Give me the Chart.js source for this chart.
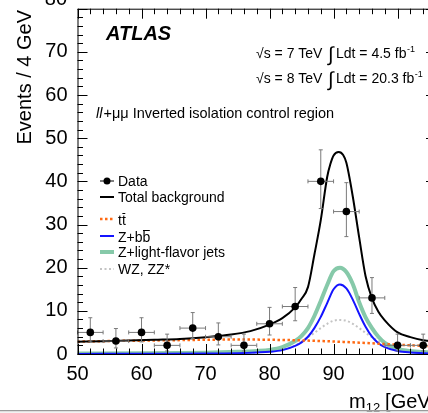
<!DOCTYPE html>
<html>
<head>
<meta charset="utf-8">
<script src="https://cdn.jsdelivr.net/npm/chart.js@4.4.0/dist/chart.umd.min.js"></script>
<style>
  html, body { margin: 0; padding: 0; overflow: hidden; background: #fff; }
</style>
</head>
<body>
<canvas id="chart" width="440" height="413"></canvas>
<script>
const FONT = '"Liberation Sans", Arial, Helvetica, sans-serif'

// data, 4 GeV bins (centres)
const dataMass = [52, 56, 60, 64, 68, 72, 76, 80, 84, 88, 92, 96, 100, 104]
const dataEvents = [5, 3, 5, 2, 6, 4, 2, 7, 11, 40, 33, 13, 2, 2]
const errDown = [2.2, 1.6, 2.2, 1.3, 2.4, 1.9, 1.3, 2.6, 3.3, 6.3, 5.8, 3.6, 1.3, 1.3]
const errUp = [3.4, 2.9, 3.4, 2.6, 3.6, 3.2, 2.6, 3.8, 4.4, 7.3, 6.7, 4.7, 2.6, 2.6]
const binHalfWidth = 2

// total background
const totalMass = [50, 54, 58, 62, 66, 70, 74, 77, 80, 82, 84, 85, 86, 87, 88, 89, 89.5, 90, 90.8, 91.5, 92, 93, 94, 95, 96, 97, 98, 100, 102, 104, 106]
const totalBkg = [2.85, 2.95, 3.1, 3.3, 3.5, 3.9, 4.5, 5.3, 6.8, 8.3, 10.8, 12.8, 15.5, 23.0, 31.0, 41.0, 44.0, 46.0, 46.8, 46.1, 44.3, 36.5, 27.0, 18.0, 12.9, 9.8, 7.8, 5.0, 3.9, 3.2, 2.9]

// ttbar
const ttbarMass = [50, 55, 60, 65, 70, 75, 80, 85, 90, 95, 100, 104, 106]
const ttbar = [2.85, 3.0, 3.1, 3.2, 3.3, 3.35, 3.3, 3.15, 2.9, 2.55, 2.15, 1.9, 1.8]

// Z components and diboson
const peakMass = [50, 60, 70, 75, 78, 80, 82, 84, 85, 86, 87, 88, 89, 90, 91, 92, 93, 94, 95, 96, 97, 98, 100, 102, 104, 106]
const zbb = [0.02, 0.05, 0.1, 0.2, 0.35, 0.5, 0.9, 1.9, 2.7, 4.0, 6.0, 8.6, 11.8, 15.0, 16.1, 15.2, 12.6, 9.3, 6.3, 4.0, 2.5, 1.6, 0.7, 0.35, 0.2, 0.1]
const zlight = [0.1, 0.15, 0.3, 0.5, 0.7, 0.95, 1.6, 3.0, 4.2, 6.0, 8.8, 12.3, 16.0, 19.2, 20.0, 19.0, 16.2, 12.0, 8.5, 6.0, 4.0, 2.6, 1.2, 0.7, 0.45, 0.3]
const diboson = [0.05, 0.1, 0.15, 0.25, 0.4, 0.6, 1.0, 2.0, 2.9, 3.9, 4.9, 6.0, 7.0, 7.7, 7.9, 7.7, 7.0, 6.0, 4.9, 3.9, 3.0, 2.2, 1.1, 0.55, 0.3, 0.15]

const xMin = 50, xMax = 106, yMin = 0, yMax = 80

const COLORS = {
  data: '#000000',
  err: '#7a7a7a',
  total: '#000000',
  ttbar: '#ff6a13',
  zbb: '#1414ff',
  zlight: '#86c9a9',
  diboson: '#c4c4c4',
}

function pts(xs, ys) {
  return xs.map((x, i) => ({ x: x, y: ys[i] }))
}

function overlineText(ctx, base, x, y) {
  // draws text and puts a bar over its last letter
  ctx.fillText(base, x, y)
  const full = ctx.measureText(base).width
  const last = ctx.measureText(base.slice(-1)).width
  ctx.save()
  ctx.strokeStyle = ctx.fillStyle
  ctx.lineWidth = 1
  ctx.beginPath()
  ctx.moveTo(x + full - last + 0.5, y - 11.5)
  ctx.lineTo(x + full - 0.5, y - 11.5)
  ctx.stroke()
  ctx.restore()
}

const decorations = {
  id: 'decorations',
  beforeDatasetDraw(chart, args) {
    if (args.index !== 0) return
    const x = chart.scales.x, y = chart.scales.y, ctx = chart.ctx
    ctx.save()
    ctx.strokeStyle = COLORS.err
    ctx.lineWidth = 1
    dataMass.forEach((m, i) => {
      const px = x.getPixelForValue(m)
      const py = y.getPixelForValue(dataEvents[i])
      const x0 = x.getPixelForValue(m - binHalfWidth)
      const x1 = x.getPixelForValue(m + binHalfWidth)
      const y0 = y.getPixelForValue(dataEvents[i] - errDown[i])
      const y1 = y.getPixelForValue(dataEvents[i] + errUp[i])
      ctx.beginPath()
      ctx.moveTo(x0, py); ctx.lineTo(x1, py)
      ctx.moveTo(px, y0); ctx.lineTo(px, y1)
      ctx.moveTo(x0, py - 2); ctx.lineTo(x0, py + 2)
      ctx.moveTo(x1, py - 2); ctx.lineTo(x1, py + 2)
      ctx.moveTo(px - 2, y0); ctx.lineTo(px + 2, y0)
      ctx.moveTo(px - 2, y1); ctx.lineTo(px + 2, y1)
      ctx.stroke()
    })
    ctx.restore()
  },
  afterDraw(chart) {
    const ctx = chart.ctx
    const a = chart.chartArea
    const x = chart.scales.x, y = chart.scales.y
    ctx.save()

    // frame + inward ticks
    ctx.strokeStyle = '#000'
    ctx.lineWidth = 1
    ctx.strokeRect(a.left + 0.5, a.top + 0.5, a.right - a.left, a.bottom - a.top)
    ctx.beginPath()
    for (let v = xMin; v <= xMax; v += 2) {
      const px = Math.round(x.getPixelForValue(v)) + 0.5
      const len = v % 10 === 0 ? 10 : 5.5
      ctx.moveTo(px, a.bottom); ctx.lineTo(px, a.bottom - len)
      ctx.moveTo(px, a.top); ctx.lineTo(px, a.top + len)
    }
    for (let v = yMin; v <= yMax; v += 2) {
      const py = Math.round(y.getPixelForValue(v)) + 0.5
      const len = v % 10 === 0 ? 10 : 5.5
      ctx.moveTo(a.left, py); ctx.lineTo(a.left + len, py)
      ctx.moveTo(a.right, py); ctx.lineTo(a.right - len, py)
    }
    ctx.stroke()

    // top label "80", clipped by the page edge
    ctx.fillStyle = '#000'
    ctx.font = '20px ' + FONT
    ctx.textAlign = 'right'
    ctx.textBaseline = 'middle'
    ctx.fillText('80', 67, y.getPixelForValue(80) - 9)

    // y title
    ctx.save()
    ctx.translate(25.5, 10)
    ctx.rotate(-Math.PI / 2)
    ctx.textAlign = 'right'
    ctx.textBaseline = 'middle'
    ctx.font = '20px ' + FONT
    ctx.fillText('Events / 4 GeV', 0, 0)
    ctx.restore()

    // x title
    ctx.textAlign = 'left'
    ctx.textBaseline = 'alphabetic'
    ctx.font = '20px ' + FONT
    ctx.fillText('m', 349, 408)
    let tx = 349 + ctx.measureText('m').width
    ctx.font = '13px ' + FONT
    ctx.fillText('12', tx, 412)
    tx += ctx.measureText('12').width + 5
    ctx.font = '20px ' + FONT
    ctx.fillText('[GeV]', tx, 408)

    // ATLAS
    ctx.font = 'italic bold 20px ' + FONT
    ctx.fillText('ATLAS', 106, 40)

    // energy / luminosity
    const lumiLines = [['7', '4.5', 58], ['8', '20.3', 83]]
    lumiLines.forEach(([e, l, by]) => {
      ctx.font = '14px ' + FONT
      ctx.fillText('\u221As = ' + e + ' TeV', 256, by)
      ctx.font = '20px ' + FONT
      ctx.fillText('\u222B', 328, by + 3)
      ctx.font = '14px ' + FONT
      const s = 'Ldt = ' + l + ' fb'
      ctx.fillText(s, 336, by)
      const w = ctx.measureText(s).width
      ctx.font = '9px ' + FONT
      ctx.fillText('-1', 336 + w + 0.5, by - 6)
    })

    // region label
    ctx.font = 'italic 14.5px ' + FONT
    ctx.fillText('ll', 96, 118)
    const llw = ctx.measureText('ll').width
    ctx.font = '14.5px ' + FONT
    ctx.fillText('+\u03BC\u03BC Inverted isolation control region', 96 + llw + 1, 118)

    // legend
    const lx0 = 100, lx1 = 114, tx0 = 118
    const rows = [181, 197, 219, 236, 252, 269]
    ctx.textBaseline = 'middle'
    ctx.font = '14px ' + FONT
    // Data
    ctx.strokeStyle = '#000'
    ctx.lineWidth = 1
    ctx.beginPath(); ctx.moveTo(lx0, rows[0]); ctx.lineTo(lx1, rows[0]); ctx.stroke()
    ctx.beginPath(); ctx.arc((lx0 + lx1) / 2, rows[0], 3.5, 0, Math.PI * 2); ctx.fill()
    ctx.fillText('Data', tx0, rows[0] + 1)
    const lineEntry = (row, color, width, dash) => {
      ctx.save()
      ctx.strokeStyle = color
      ctx.lineWidth = width
      ctx.setLineDash(dash)
      ctx.beginPath(); ctx.moveTo(lx0, row); ctx.lineTo(lx1, row); ctx.stroke()
      ctx.restore()
    }
    lineEntry(rows[1], COLORS.total, 2, [])
    ctx.fillText('Total background', tx0, rows[1] + 1)
    lineEntry(rows[2], COLORS.ttbar, 2.5, [2.5, 2.5])
    ctx.textBaseline = 'alphabetic'
    overlineText(ctx, 'tt', tx0, rows[2] + 6)
    lineEntry(rows[3], COLORS.zbb, 2, [])
    overlineText(ctx, 'Z+bb', tx0, rows[3] + 6)
    ctx.textBaseline = 'middle'
    lineEntry(rows[4], COLORS.zlight, 4, [])
    ctx.fillText('Z+light-flavor jets', tx0, rows[4] + 1)
    lineEntry(rows[5], COLORS.diboson, 2, [2, 2.5])
    ctx.fillText('WZ, ZZ*', tx0, rows[5] + 1)

    // grey page edge at the bottom
    ctx.fillStyle = '#9a9a9a'
    ctx.fillRect(0, 410, chart.width, 1.5)
    ctx.fillStyle = '#f2f2f2'
    ctx.fillRect(0, 411.5, chart.width, 2)
    ctx.restore()
  },
}

new Chart(document.getElementById('chart'), {
  type: 'line',
  data: {
    datasets: [
      {
        type: 'scatter',
        label: 'Data',
        data: pts(dataMass, dataEvents),
        pointRadius: 3.8,
        backgroundColor: COLORS.data,
        borderColor: COLORS.data,
        borderWidth: 0,
        showLine: false,
      },
      { label: 'Total background', data: pts(totalMass, totalBkg), borderColor: COLORS.total, borderWidth: 2 },
      { label: 'ttbar', data: pts(ttbarMass, ttbar), borderColor: COLORS.ttbar, borderWidth: 2.5, borderDash: [2.5, 2.5] },
      { label: 'Z+bb', data: pts(peakMass, zbb), borderColor: COLORS.zbb, borderWidth: 2 },
      { label: 'Z+light-flavor jets', data: pts(peakMass, zlight), borderColor: COLORS.zlight, borderWidth: 4 },
      { label: 'WZ, ZZ*', data: pts(peakMass, diboson), borderColor: COLORS.diboson, borderWidth: 2, borderDash: [2, 2.5] },
    ],
  },
  options: {
    responsive: false,
    animation: false,
    events: [],
    layout: { padding: { top: 8.7, right: 3.5, left: 0, bottom: 0 } },
    elements: {
      point: { radius: 0 },
      line: { cubicInterpolationMode: 'monotone', fill: false },
    },
    plugins: { legend: { display: false }, tooltip: { enabled: false } },
    scales: {
      x: {
        type: 'linear',
        min: xMin,
        max: xMax,
        grid: { display: false, drawTicks: false },
        border: { display: false },
        ticks: {
          stepSize: 10,
          includeBounds: false,
          maxRotation: 0,
          padding: 8,
          color: '#000',
          font: { family: FONT, size: 20 },
        },
        afterFit: (s) => {
          s.height = 59
          s.paddingLeft = 0
          s.paddingRight = 0
        },
      },
      y: {
        min: yMin,
        max: yMax,
        grid: { display: false, drawTicks: false },
        border: { display: false },
        ticks: {
          stepSize: 10,
          padding: 10,
          color: '#000',
          font: { family: FONT, size: 20 },
          callback: (v) => (v === 80 ? '' : v),
        },
        afterFit: (s) => {
          s.width = 77.5
          s.paddingTop = 0
          s.paddingBottom = 0
        },
      },
    },
  },
  plugins: [decorations],
})
</script>
</body>
</html>
